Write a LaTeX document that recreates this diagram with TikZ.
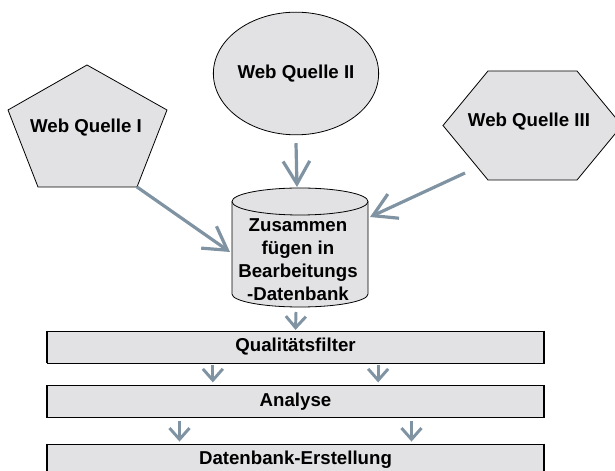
\documentclass[tikz,border=0pt]{standalone}
\usepackage{fontspec}
\setmainfont{Liberation Sans}
\usetikzlibrary{arrows.meta, shapes.geometric}
\definecolor{boxgray}{RGB}{226,226,228}
\definecolor{flowblue}{RGB}{128,147,163}
\tikzset{
  shapebox/.style={draw=black, fill=boxgray, line width=0.6pt},
  boxtext/.style={font=\bfseries\fontsize{14}{17.25}\selectfont, align=center},
  barbox/.style={shapebox, boxtext, rectangle, minimum width=372.75pt, minimum height=24pt, inner sep=0pt},
  bigflow/.style={draw=flowblue, line width=2.4pt, -{Straight Barb[length=17pt, width=20pt]}},
  smallflow/.style={draw=flowblue, line width=2.2pt, -{Straight Barb[length=8.5pt, width=15pt]}}
}

\begin{document}
\begin{tikzpicture}[x=0.75pt, y=0.75pt]
  \useasboundingbox (0,0) rectangle (615,471);
  \clip (0,0) rectangle (615,471);
  % sources
  \draw[shapebox] (87,406) -- (167,361) -- (137,284) -- (38,284) -- (8,361) -- cycle;
  \node[boxtext] (src1) at (86,343) {Web Quelle I};
  \node[shapebox, boxtext, ellipse, minimum width=117pt, minimum height=92pt, inner sep=0pt]
    (src2) at (296,397.5) {Web Quelle II};
  \draw[shapebox] (443,345.5) -- (488,400) -- (577,400) -- (622,345.5) -- (577,291) -- (488,291) -- cycle;
  \node[boxtext] (src3) at (529,349) {Web Quelle III};
  % merge cylinder
  \draw[shapebox] (232,269.5) -- (232,177) arc[start angle=180, end angle=360, x radius=68, y radius=13]
    -- (368,269.5) arc[start angle=0, end angle=180, x radius=68, y radius=13.5] -- cycle;
  \draw[line width=0.6pt] (232,269.5) arc[start angle=180, end angle=360, x radius=68, y radius=13.5];
  \node[boxtext] (merge) at (298,211) {Zusammen\\fügen in\\Bearbeitungs\\-Datenbank};
  \coordinate (src1end) at (137,284);
  \coordinate (src3end) at (465,298);
  \coordinate (mergetop) at (297,284);
  \coordinate (mergeleft) at (230,219);
  \coordinate (mergeright) at (370,254);
  \coordinate (mergebottom) at (296,159);
  % process bars
  \node[barbox] (filter) at (295.5,124) {Qualitätsfilter};
  \node[barbox] (analyse) at (295.5,69.5) {Analyse};
  \node[barbox] (dbcreate) at (295.5,11) {Datenbank-Erstellung};
  \foreach \b in {filter,analyse,dbcreate}{
    \draw[line width=1.5pt] (\b.north west) -- (\b.south west);
    \draw[line width=1.5pt] (\b.north east) -- (\b.south east);
  }
  % connectors
  \draw[bigflow] ([yshift=-6pt]src2.south) -- (mergetop);
  \draw[bigflow] (src1end) -- (mergeleft);
  \draw[bigflow] (src3end) -- (mergeright);
  \draw[smallflow] (mergebottom) -- ([yshift=0.5pt]filter.north);
  \draw[smallflow] ([xshift=-62pt, yshift=-1.5pt]filter.south) -- ([xshift=-62pt, yshift=2pt]analyse.north);
  \draw[smallflow] ([xshift=62pt, yshift=-1.5pt]filter.south) -- ([xshift=62pt, yshift=2pt]analyse.north);
  \draw[smallflow] ([xshift=-87pt, yshift=-2pt]analyse.south) -- ([xshift=-87pt, yshift=1.5pt]dbcreate.north);
  \draw[smallflow] ([xshift=87pt, yshift=-2pt]analyse.south) -- ([xshift=87pt, yshift=1.5pt]dbcreate.north);
\end{tikzpicture}
\end{document}
